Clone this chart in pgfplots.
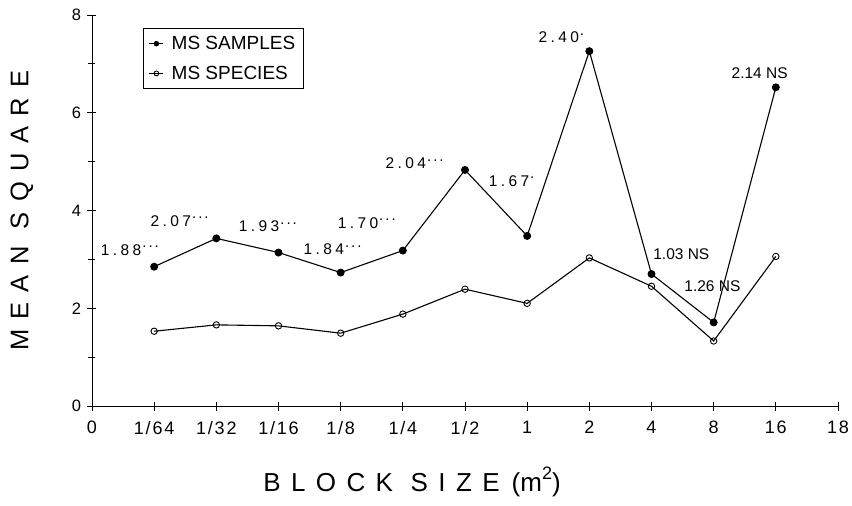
\documentclass[border=0pt]{standalone}
\usepackage{fontspec}
\setmainfont{Liberation Sans}
\newfontfamily\wide[LetterSpace=40]{Liberation Sans}
\newfontfamily\med[LetterSpace=22]{Liberation Sans}
\newfontfamily\tk[LetterSpace=10]{Liberation Sans}
\usepackage{pgfplots}
\pgfplotsset{compat=1.18}
\newcommand{\sig}[1]{\raisebox{0.5em}{\fontsize{15}{15}\selectfont #1}}
\newcommand{\three}{\sig{\kern1pt.\kern2pt.\kern2pt.}}
\newcommand{\one}{\sig{\kern1pt.}}
\begin{document}
\begin{tikzpicture}
\useasboundingbox (-92pt,-100pt) rectangle (760pt,406pt);
\begin{axis}[
  at={(0pt,0pt)}, anchor=south west,
  scale only axis, width=746pt, height=391pt,
  xmin=0, xmax=12, ymin=0, ymax=8,
  axis x line=bottom, axis y line=left,
  axis line style={-, line width=0.9pt},
  xtick={0,...,12},
  xticklabels={0,1/64,1/32,1/16,1/8,1/4,1/2,1,2,4,8,16,18},
  ytick={0,2,4,6,8}, minor ytick={1,3,5,7},
  tick align=center, major tick length=9pt, minor tick length=7pt,
  tick style={black, line width=0.8pt},
  /pgf/number format/assume math mode=true,
  x tick label style={font=\fontsize{18}{20}\selectfont\tk, yshift=-7pt},
  y tick label style={font=\fontsize{16.5}{18}\selectfont, xshift=-3pt},
  xlabel={{\wide BLOCK SIZE}\hspace{12pt}(m\raisebox{0.45em}{\fontsize{18}{18}\selectfont 2})},
  xlabel style={font=\fontsize{26}{28}\selectfont, at={(axis description cs:0.429,-0.194)}, anchor=center},
  ylabel={\wide MEAN SQUARE},
  ylabel style={font=\fontsize{25.5}{28}\selectfont, at={(axis description cs:-0.094,0.5)}, anchor=center},
  clip=false,
  legend style={at={(axis description cs:0.068,0.967)}, anchor=north west,
    draw=black, line width=0.8pt, font=\fontsize{19}{22}\selectfont,
    inner xsep=6pt, inner ysep=6pt, row sep=11pt},
  legend cell align=left,
  legend image code/.code={\draw[#1, line width=0.6pt, mark size=2.4pt, mark repeat=2, mark phase=2] plot coordinates {(0pt,0pt)(7pt,0pt)(14pt,0pt)};},
]
\addplot[black, line width=1.1pt, mark=*, mark size=3.4pt, mark options={fill=black}]
  coordinates {(1,2.85)(2,3.43)(3,3.14)(4,2.73)(5,3.18)(6,4.83)(7,3.48)(8,7.26)(9,2.70)(10,1.71)(11,6.52)};
\addlegendentry{\hspace{6pt}MS SAMPLES}
\addplot[black, line width=1.1pt, mark=o, mark size=3.2pt, mark options={fill=white, line width=0.9pt}]
  coordinates {(1,1.53)(2,1.66)(3,1.64)(4,1.49)(5,1.88)(6,2.39)(7,2.10)(8,3.03)(9,2.45)(10,1.33)(11,3.06)};
\addlegendentry{\hspace{6pt}MS SPECIES}
\begin{scope}[every node/.style={font=\fontsize{15.5}{17}\selectfont, anchor=center, inner sep=0pt}]
\node at (axis cs:0.61,3.19) {\med 1.88\three};
\node at (axis cs:1.41,3.79) {\med 2.07\three};
\node at (axis cs:2.83,3.67) {\med 1.93\three};
\node at (axis cs:3.87,3.20) {\med 1.84\three};
\node at (axis cs:4.42,3.75) {\med 1.70\three};
\node at (axis cs:5.19,4.96) {\med 2.04\three};
\node at (axis cs:6.75,4.60) {\med 1.67\one};
\node at (axis cs:7.55,7.54) {\med 2.40\one};
\node at (axis cs:10.74,6.82) {2.14 NS};
\node at (axis cs:9.48,3.11) {1.03 NS};
\node at (axis cs:9.98,2.46) {1.26 NS};
\end{scope}
\end{axis}
\end{tikzpicture}
\end{document}
